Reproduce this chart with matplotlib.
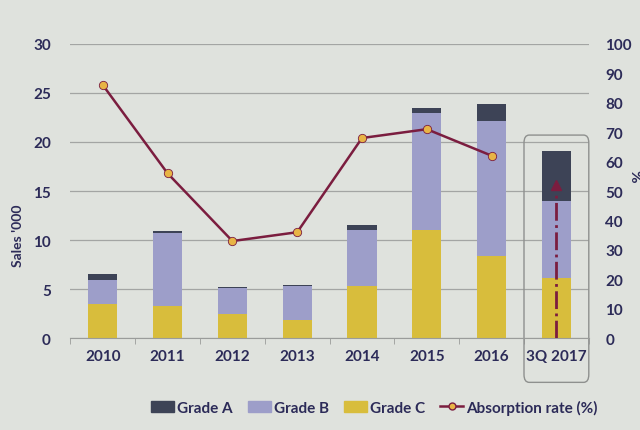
import numpy as np
import matplotlib
matplotlib.use("Agg")
import matplotlib.pyplot as plt
from matplotlib.patches import FancyBboxPatch, Patch
from matplotlib.lines import Line2D
import matplotlib.transforms as mtransforms

plt.rcParams['font.family'] = ['Lato', 'DejaVu Sans']

# data (sales in '000, absorption in %)
years = ['2010', '2011', '2012', '2013', '2014', '2015', '2016', '3Q 2017']
grade_a = [0.6, 0.2, 0.1, 0.1, 0.5, 0.5, 1.8, 5.1]
grade_b = [2.4, 7.4, 2.6, 3.4, 5.7, 12.0, 13.7, 7.9]
grade_c = [3.5, 3.3, 2.5, 1.9, 5.3, 11.0, 8.4, 6.1]
absorption = [86, 56, 33, 36, 68, 71, 62]   # 2010-2016
arrow_top = 52                               # 3Q 2017 arrow (%)

col_a = '#3d4356'
col_b = '#9d9ec9'
col_c = '#d8bd3c'
col_line = '#7b1d3f'
col_mark = '#e8b445'
txt = '#2c2b58'
bg = '#dfe2dd'

fig = plt.figure(figsize=(6.4, 4.31), dpi=100, facecolor=bg)
ax = fig.add_axes([0.11, 0.213, 0.81, 0.683])
ax.set_facecolor(bg)

x = np.arange(len(years))
w = 0.45
ax.bar(x, grade_c, w, color=col_c, zorder=2)
ax.bar(x, grade_b, w, bottom=grade_c, color=col_b, zorder=2)
ax.bar(x, grade_a, w, bottom=np.add(grade_c, grade_b), color=col_a, zorder=2)

ax.set_ylim(0, 30)
ax.set_xlim(-0.5, len(years) - 0.5)
ax.set_yticks(range(0, 31, 5))
ax.yaxis.grid(True, color='#a3a5a3', linewidth=0.9, zorder=0)
ax.set_axisbelow(True)
for s in ['top', 'left', 'right']:
    ax.spines[s].set_visible(False)
ax.spines['bottom'].set_color('#9a9c9a')
ax.set_xticks(x)
ax.set_xticklabels(years)
ax.set_xticks(np.arange(-0.5, len(years)), minor=True)
ax.tick_params(axis='x', which='major', length=0, pad=8)
ax.tick_params(axis='x', which='minor', length=4, color='#9a9c9a')
ax.tick_params(axis='y', length=0, pad=14)
for lab in ax.get_xticklabels() + ax.get_yticklabels():
    lab.set_fontweight('bold')
    lab.set_fontsize(11)
    lab.set_color(txt)
ax.set_ylabel("Sales '000", fontsize=10, fontweight='bold', color=txt)
ax.yaxis.set_label_coords(-0.09, 0.35)

ax2 = ax.twinx()
ax2.set_ylim(0, 100)
ax2.set_yticks(range(0, 101, 10))
for s in ax2.spines.values():
    s.set_visible(False)
ax2.tick_params(axis='y', length=0, pad=12)
for lab in ax2.get_yticklabels():
    lab.set_fontweight('bold')
    lab.set_fontsize(11)
    lab.set_color(txt)
ax2.plot(x[:len(absorption)], absorption, color=col_line, linewidth=1.8,
         marker='o', markersize=6, markerfacecolor=col_mark,
         markeredgecolor=col_line, markeredgewidth=0.6, zorder=4)
ax2.text(1.088, 0.555, '%', transform=ax2.transAxes, rotation=-90,
         fontsize=11, fontweight='bold', color=txt, ha='center', va='center')

# dash-dot arrow in the 3Q 2017 column
last = x[-1]
ax2.plot([last, last], [0, arrow_top - 3], color=col_line, linestyle='-.',
         linewidth=2, zorder=5)
ax2.plot([last], [arrow_top], marker='^', color=col_line, markersize=7, zorder=5)

# rounded frame around the 3Q 2017 column
trans = mtransforms.blended_transform_factory(ax.transData, ax.transAxes)
box = FancyBboxPatch((last - 0.5, -0.15), 1.0, 0.84,
                     boxstyle='round,pad=0,rounding_size=0.08',
                     transform=trans, fill=False, edgecolor='#8e908e',
                     linewidth=1, clip_on=False, zorder=1,
                     mutation_aspect=1 / 3)
ax.add_patch(box)

handles = [Patch(color=col_a, label='Grade A'),
           Patch(color=col_b, label='Grade B'),
           Patch(color=col_c, label='Grade C'),
           Line2D([], [], color=col_line, linewidth=1.8, marker='o',
                  markersize=5, markerfacecolor=col_mark,
                  markeredgecolor=col_line, label='Absorption rate (%)')]
leg = fig.legend(handles=handles, loc='center', bbox_to_anchor=(0.585, 0.053),
                 ncol=4, frameon=False, handlelength=1.5, handleheight=0.7,
                 handletextpad=0.2, columnspacing=1.0,
                 prop={'weight': 'bold', 'size': 11})
for t in leg.get_texts():
    t.set_color(txt)

fig.savefig('out.png', dpi=100, facecolor=bg)
